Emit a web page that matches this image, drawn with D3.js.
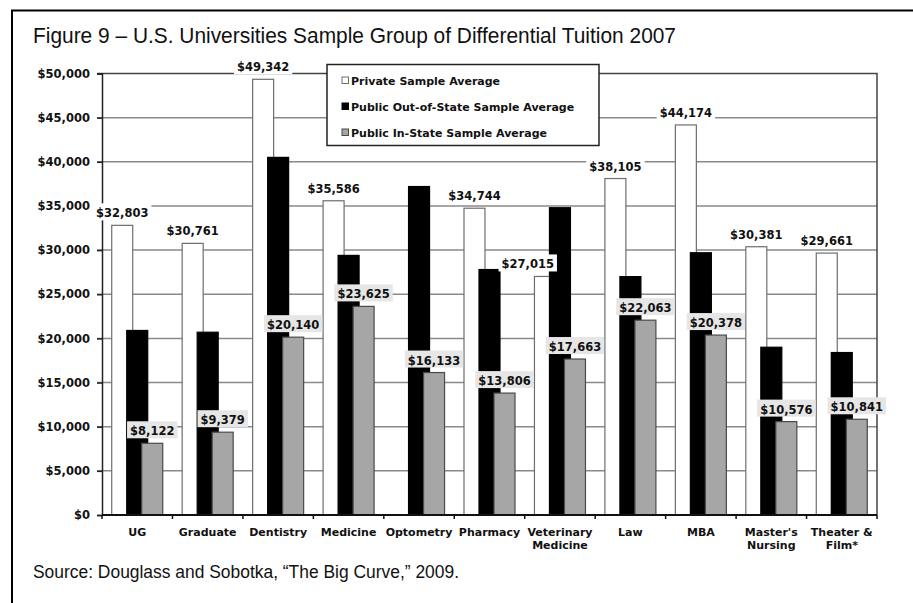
<!DOCTYPE html>
<meta charset="utf-8">
<html>
  <head>
    <style>
      body { margin: 0; background: #fff; }
      text.bold { font-family: "DejaVu Sans", Verdana, sans-serif; font-weight: bold; fill: #111; }
      text.narrow { font-family: "Liberation Sans Narrow", "Liberation Sans", Arial, sans-serif; fill: #111; }
    </style>
    <script src="https://d3js.org/d3.v7.min.js"></script>
  </head>
  <body>
    <div id="chart"></div>
    <script type="text/javascript">
      var categories = ["UG", "Graduate", "Dentistry", "Medicine", "Optometry", "Pharmacy",
                        "Veterinary\nMedicine", "Law", "MBA", "Master's\nNursing", "Theater &\nFilm*"];
      var seriesNames = ["Private Sample Average", "Public Out-of-State Sample Average", "Public In-State Sample Average"];
      var privateAvg = [32803, 30761, 49342, 35586, null, 34744, 27015, 38105, 44174, 30381, 29661];
      var outOfState = [20900, 20700, 40500, 29400, 37200, 27800, 34800, 27000, 29700, 19000, 18400];
      var inState = [8122, 9379, 20140, 23625, 16133, 13806, 17663, 22063, 20378, 10576, 10841];
      var yTicks = [0, 5000, 10000, 15000, 20000, 25000, 30000, 35000, 40000, 45000, 50000];

      var title = "Figure 9 \u2013 U.S. Universities Sample Group of Differential Tuition 2007";
      var source = "Source: Douglass and Sobotka, \u201CThe Big Curve,\u201D 2009.";

      var W = 913, H = 603;
      var plot = { left: 102, right: 877, top: 73.5, bottom: 515 };

      var svg = d3.select("#chart").append("svg")
          .attr("width", W)
          .attr("height", H);

      // outer frame (runs off the right and bottom edge)
      svg.append("rect")
          .attr("x", 12).attr("y", 10.5)
          .attr("width", 940).attr("height", 640)
          .attr("fill", "none").attr("stroke", "#000").attr("stroke-width", 2);

      svg.append("text").attr("class", "narrow")
          .attr("x", 33).attr("y", 43)
          .attr("font-size", 22.5)
          .attr("textLength", 643).attr("lengthAdjust", "spacingAndGlyphs")
          .text(title);

      svg.append("text").attr("class", "narrow")
          .attr("x", 33).attr("y", 578)
          .attr("font-size", 17.5)
          .attr("textLength", 426).attr("lengthAdjust", "spacingAndGlyphs")
          .text(source);

      var x = d3.scaleBand()
          .domain(categories)
          .range([plot.left, plot.right])
          .padding(0);

      var y = d3.scaleLinear()
          .domain([0, 50000])
          .range([plot.bottom, plot.top]);

      var fmt = d3.format("$,");
      var bw = x.bandwidth(),
          barW = bw * 0.298,
          step = bw * 0.213,
          offset0 = (bw - (2 * step + barW)) / 2;

      // gridlines
      svg.append("g").selectAll("line")
          .data(yTicks.filter(function(d) { return d > 0 && d < 50000; }))
          .enter().append("line")
            .attr("x1", plot.left - 5).attr("x2", plot.right)
            .attr("y1", function(d) { return y(d); })
            .attr("y2", function(d) { return y(d); })
            .attr("stroke", "#8a8a8a").attr("stroke-width", 1.5);

      // plot frame top / right
      svg.append("path")
          .attr("d", "M" + (plot.left - 5) + "," + y(50000) + "H" + plot.right + "V" + plot.bottom)
          .attr("fill", "none").attr("stroke", "#444").attr("stroke-width", 1.5);

      // y axis
      var yAxis = svg.append("g")
          .attr("transform", "translate(" + plot.left + ",0)")
          .call(d3.axisLeft(y).tickValues(yTicks).tickFormat(fmt).tickSize(5).tickPadding(7));
      yAxis.select(".domain").attr("stroke", "#222").attr("stroke-width", 1.5);
      yAxis.selectAll(".tick line").attr("stroke", "#222").attr("stroke-width", 1.5);
      yAxis.selectAll("text")
          .attr("class", "bold")
          .attr("font-size", 11.5)
          .attr("font-family", null);

      var series = [
        { name: seriesNames[0], values: privateAvg, fill: "#ffffff", stroke: "#6e6e6e" },
        { name: seriesNames[1], values: outOfState, fill: "#000000", stroke: "#000000" },
        { name: seriesNames[2], values: inState, fill: "#a6a6a6", stroke: "#4a4a4a" }
      ];

      series.forEach(function(s, si) {
        svg.append("g").selectAll("rect")
            .data(categories.map(function(c, i) { return { cat: c, v: s.values[i] }; })
                  .filter(function(d) { return d.v != null; }))
            .enter().append("rect")
              .attr("x", function(d) { return x(d.cat) + offset0 + si * step; })
              .attr("y", function(d) { return y(d.v); })
              .attr("width", barW)
              .attr("height", function(d) { return y(0) - y(d.v); })
              .attr("fill", s.fill)
              .attr("stroke", s.stroke)
              .attr("stroke-width", 1.2);
      });

      // bottom axis line and category ticks
      svg.append("line")
          .attr("x1", plot.left).attr("x2", plot.right)
          .attr("y1", plot.bottom).attr("y2", plot.bottom)
          .attr("stroke", "#111").attr("stroke-width", 1.8);
      svg.append("g").selectAll("line")
          .data(categories.concat([null]))
          .enter().append("line")
            .attr("x1", function(d) { return d == null ? plot.right : x(d); })
            .attr("x2", function(d) { return d == null ? plot.right : x(d); })
            .attr("y1", plot.bottom).attr("y2", plot.bottom + 4)
            .attr("stroke", "#111").attr("stroke-width", 1.5);

      svg.append("g").selectAll("text")
          .data(categories)
          .enter().append("text")
            .attr("class", "bold")
            .attr("font-size", 11)
            .attr("text-anchor", "middle")
            .attr("x", function(d) { return x(d) + bw / 2; })
            .attr("y", 535.5)
            .each(function(d) {
              var t = d3.select(this);
              d.split("\n").forEach(function(line, li) {
                t.append("tspan")
                  .attr("x", x(d) + bw / 2)
                  .attr("dy", li === 0 ? 0 : 13.5)
                  .text(line);
              });
            });

      // data labels: private (white bg) and in-state (gray bg)
      function addLabels(values, si, bg) {
        var g = svg.append("g");
        categories.forEach(function(c, i) {
          var v = values[i];
          if (v == null) return;
          var bx = x(c) + offset0 + si * step;
          var anchor = "middle", tx = bx + barW / 2;
          // if the next bar is taller, keep the label clear of it
          if (si === 0 && outOfState[i] > v) { anchor = "end"; tx = bx + barW - 1.5; }
          var lg = g.append("g");
          var rect = lg.append("rect").attr("fill", bg);
          var t = lg.append("text")
              .attr("class", "bold")
              .attr("font-size", 11.5)
              .attr("text-anchor", anchor)
              .attr("x", tx)
              .attr("y", y(v) - 8)
              .text(fmt(v));
          var bb = t.node().getBBox();
          rect.attr("x", bb.x - 3).attr("y", y(v) - 22)
              .attr("width", bb.width + 6).attr("height", 17);
        });
      }
      addLabels(privateAvg, 0, "#ffffff");
      addLabels(inState, 2, "#e6e6e6");

      // legend
      var legend = svg.append("g").attr("transform", "translate(327,64.5)");
      legend.append("rect")
          .attr("width", 272).attr("height", 81)
          .attr("fill", "#fff").attr("stroke", "#222").attr("stroke-width", 1.5);
      series.forEach(function(s, i) {
        var ly = 16 + i * 26;
        legend.append("rect")
            .attr("x", 15).attr("y", ly - 3.5)
            .attr("width", 6.5).attr("height", 6.5)
            .attr("fill", s.fill).attr("stroke", s.stroke).attr("stroke-width", 1);
        legend.append("text")
            .attr("class", "bold")
            .attr("font-size", 11)
            .attr("x", 24).attr("y", ly + 4)
            .text(s.name);
      });
    </script>
  </body>
</html>
